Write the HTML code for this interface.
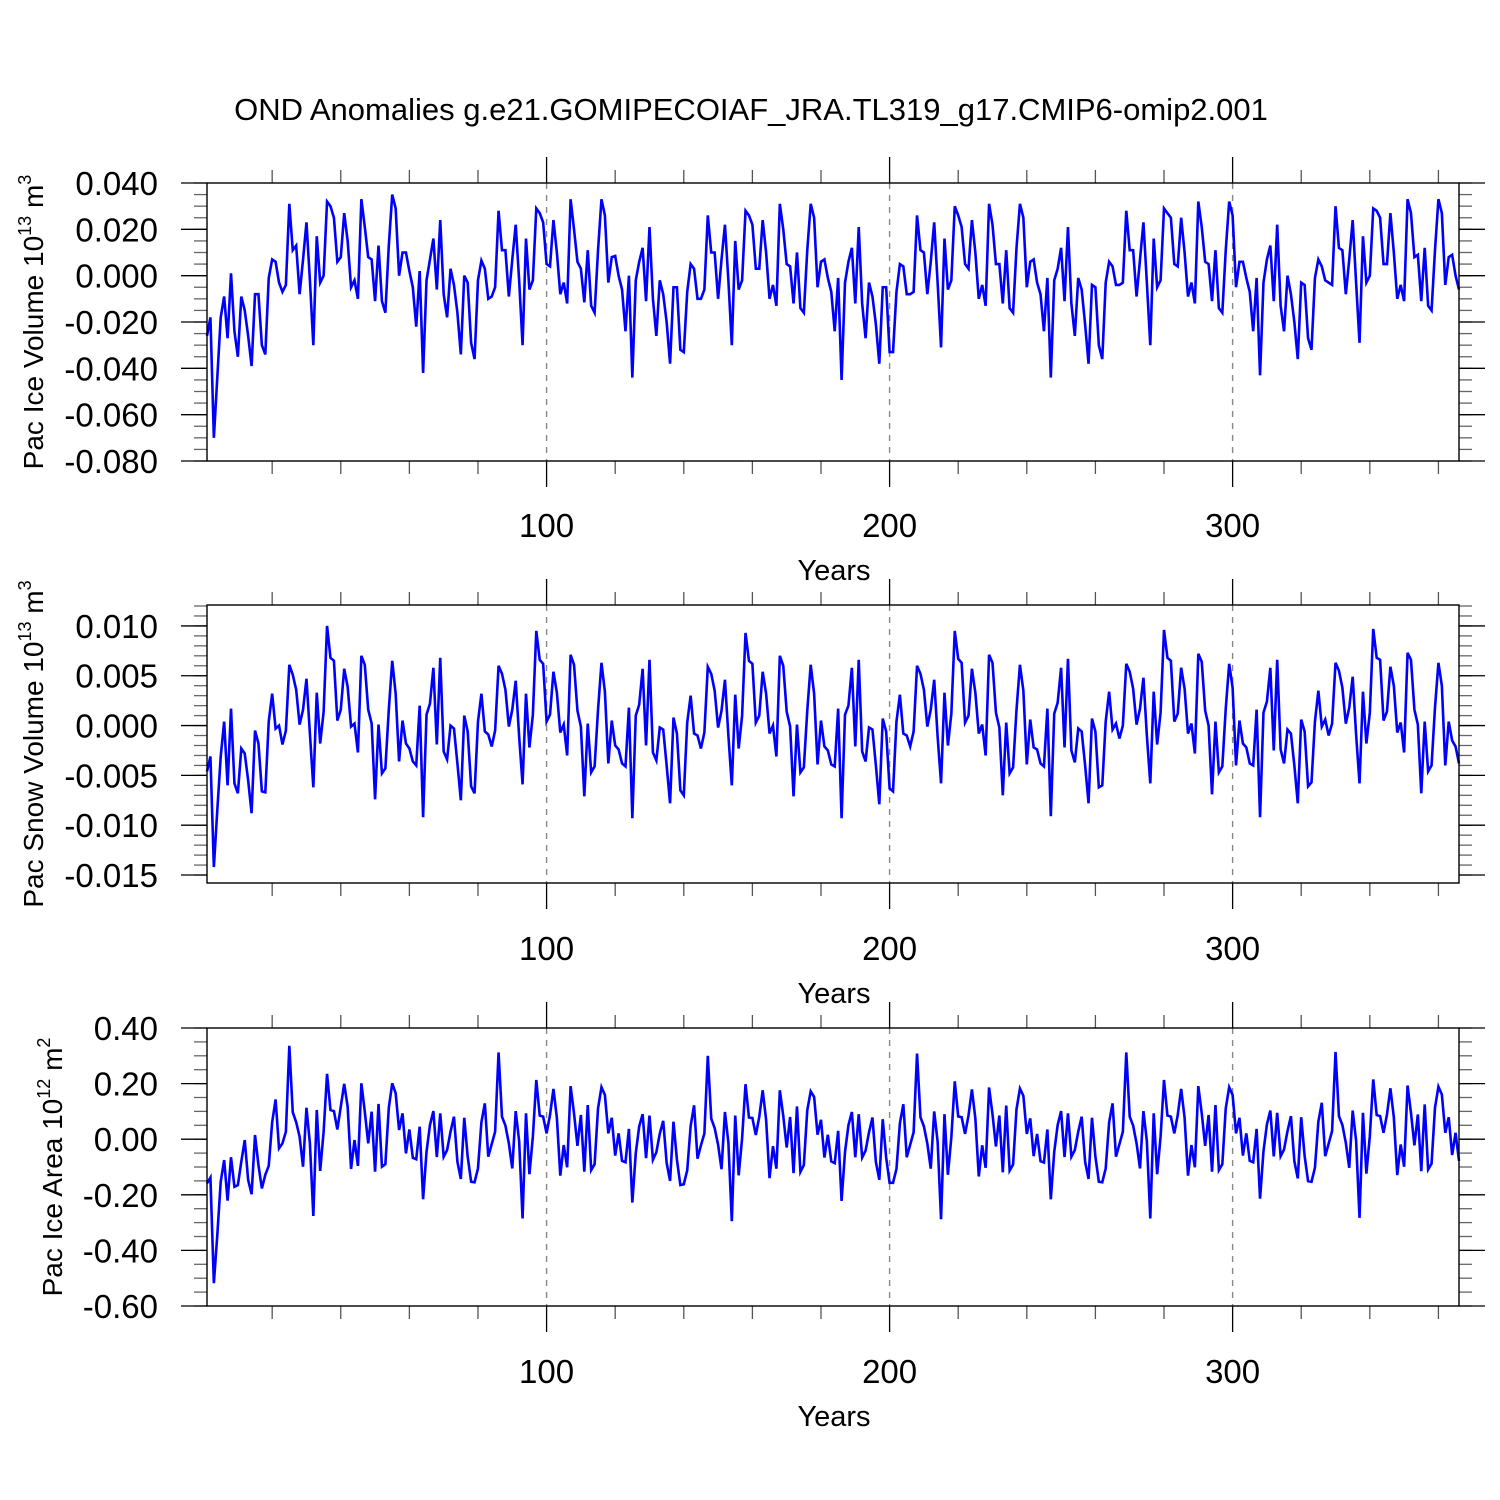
<!DOCTYPE html>
<html>
<head>
<meta charset="utf-8">
<style>
  html,body{margin:0;padding:0;background:#fff;}
  svg{display:block;font-family:"Liberation Sans",Arial,sans-serif;}
</style>
</head>
<body>
<svg id="chart" width="1500" height="1500" viewBox="0 0 1500 1500" xmlns="http://www.w3.org/2000/svg">
  <rect width="1500" height="1500" fill="#fff"/>
  <text x="751" y="120" font-size="31" text-anchor="middle" fill="#000">OND Anomalies g.e21.GOMIPECOIAF_JRA.TL319_g17.CMIP6-omip2.001</text>
</svg>
<script>
// ---------- data ----------
const xTickValues = [100, 200, 300];
const xTickLabels = ["100", "200", "300"];

const iceVolTicks = [0.040, 0.020, 0.000, -0.020, -0.040, -0.060, -0.080];
const iceVolTickLabels = ["0.040","0.020","0.000","-0.020","-0.040","-0.060","-0.080"];
const snowVolTicks = [0.010, 0.005, 0.000, -0.005, -0.010, -0.015];
const snowVolTickLabels = ["0.010","0.005","0.000","-0.005","-0.010","-0.015"];
const iceAreaTicks = [0.40, 0.20, 0.00, -0.20, -0.40, -0.60];
const iceAreaTickLabels = ["0.40","0.20","0.00","-0.20","-0.40","-0.60"];

const iceVolume = [
-0.026,-0.018,-0.070,-0.044,-0.018,-0.009,-0.027,0.001,-0.024,-0.035,-0.009,-0.015,-0.026,-0.039,-0.008,-0.008,-0.030,-0.034,-0.001,0.007,0.006,-0.003,-0.007,-0.004,0.031,0.011,0.013,-0.008,0.007,0.023,-0.002,-0.030,0.017,-0.003,0.000,0.032,0.030,0.025,0.006,0.008,0.027,0.015,-0.005,-0.002,-0.010,0.033,0.021,0.008,0.007,-0.011,0.013,-0.011,-0.016,0.013,0.035,0.029,0.000,0.010,0.010,0.002,-0.005,-0.022,0.002,
-0.042,-0.002,0.007,0.016,-0.006,0.024,-0.008,-0.018,0.003,-0.004,-0.016,-0.034,0.000,-0.003,-0.029,-0.036,-0.002,0.0065,0.003,-0.010,-0.009,-0.005,0.028,0.011,0.011,-0.009,0.007,0.022,-0.002,-0.030,0.016,-0.006,-0.002,0.029,0.027,0.023,0.005,0.004,0.024,0.010,-0.008,-0.003,-0.012,0.033,0.020,0.006,0.003,-0.0115,0.011,-0.013,-0.016,0.011,0.033,0.026,-0.003,0.008,0.0085,0.000,-0.006,-0.024,0.000,
-0.044,-0.002,0.006,0.012,-0.011,0.021,-0.010,-0.026,-0.002,-0.008,-0.020,-0.038,-0.005,-0.005,-0.032,-0.033,-0.007,0.005,0.003,-0.010,-0.010,-0.006,0.026,0.010,0.010,-0.010,0.007,0.022,-0.002,-0.030,0.015,-0.006,-0.002,0.028,0.026,0.022,0.003,0.003,0.024,0.010,-0.010,-0.004,-0.013,0.031,0.020,0.005,0.004,-0.012,0.010,-0.014,-0.016,0.011,0.031,0.025,-0.005,0.006,0.007,-0.001,-0.007,-0.024,-0.001,
-0.045,-0.003,0.006,0.012,-0.012,0.021,-0.012,-0.027,-0.003,-0.009,-0.021,-0.038,-0.005,-0.005,-0.033,-0.033,-0.007,0.005,0.004,-0.008,-0.008,-0.007,0.026,0.011,0.010,-0.008,0.006,0.023,-0.003,-0.031,0.016,-0.006,-0.002,0.030,0.026,0.021,0.005,0.003,0.024,0.010,-0.010,-0.004,-0.013,0.031,0.022,0.005,0.005,-0.012,0.011,-0.014,-0.016,0.012,0.031,0.025,-0.005,0.006,0.007,-0.003,-0.008,-0.024,-0.001,
-0.044,-0.002,0.003,0.012,-0.011,0.021,-0.012,-0.026,-0.001,-0.006,-0.021,-0.038,-0.004,-0.005,-0.030,-0.036,-0.003,0.006,0.004,-0.004,-0.004,-0.003,0.028,0.011,0.011,-0.009,0.007,0.023,-0.003,-0.030,0.016,-0.005,-0.002,0.029,0.027,0.025,0.005,0.004,0.025,0.010,-0.009,-0.003,-0.012,0.032,0.021,0.006,0.005,-0.011,0.011,-0.014,-0.016,0.011,0.032,0.026,-0.005,0.006,0.006,-0.001,-0.007,-0.024,-0.001,
-0.043,-0.003,0.007,0.013,-0.011,0.022,-0.013,-0.024,0.000,-0.008,-0.020,-0.036,-0.003,-0.004,-0.027,-0.032,-0.001,0.007,0.004,-0.002,-0.003,-0.004,0.030,0.012,0.011,-0.008,0.007,0.024,-0.003,-0.029,0.017,-0.003,0.000,0.029,0.028,0.025,0.005,0.005,0.027,0.010,-0.010,-0.004,-0.011,0.033,0.027,0.008,0.009,-0.011,0.012,-0.013,-0.015,0.011,0.033,0.027,-0.004,0.008,0.009,0.000,-0.006
];

const snowVolume = [
-0.0046,-0.0031,-0.0142,-0.0085,-0.0031,0.0004,-0.0060,0.0017,-0.0058,-0.0068,-0.0023,-0.0028,-0.0055,-0.0088,-0.0005,-0.0018,-0.0066,-0.0067,0.0004,0.0032,-0.0003,0.0000,-0.0019,-0.0005,0.0061,0.0051,0.0036,0.0001,0.0016,0.0047,-0.0008,-0.0062,0.0033,-0.0018,0.0014,0.0100,0.0068,0.0065,0.0005,0.0016,0.0057,0.0039,-0.0001,0.0002,-0.0027,0.0070,0.0061,0.0016,0.0002,-0.0074,0.0001,-0.0048,-0.0043,0.0016,0.0065,0.0032,-0.0036,0.0005,-0.0018,-0.0023,-0.0036,-0.0040,0.0020,
-0.0092,0.0011,0.0022,0.0058,-0.0019,0.0068,-0.0026,-0.0034,0.0000,-0.0003,-0.0038,-0.0075,0.0010,-0.0006,-0.0061,-0.0068,0.0004,0.0032,-0.0006,-0.0009,-0.0021,-0.0005,0.0060,0.0052,0.0036,-0.0001,0.0016,0.0045,-0.0011,-0.0059,0.0032,-0.0022,0.0011,0.0095,0.0066,0.0062,0.0004,0.0011,0.0054,0.0033,-0.0007,0.0001,-0.0030,0.0071,0.0061,0.0015,-0.0001,-0.0071,0.0002,-0.0047,-0.0041,0.0016,0.0063,0.0034,-0.0038,0.0005,-0.0020,-0.0024,-0.0038,-0.0041,0.0018,
-0.0093,0.0010,0.0021,0.0057,-0.0020,0.0066,-0.0027,-0.0035,-0.0002,-0.0004,-0.0040,-0.0078,0.0008,-0.0008,-0.0065,-0.0070,0.0003,0.0030,-0.0008,-0.0010,-0.0023,-0.0007,0.0059,0.0052,0.0035,-0.0002,0.0015,0.0046,-0.0010,-0.0060,0.0031,-0.0023,0.0010,0.0093,0.0065,0.0062,0.0003,0.0010,0.0054,0.0032,-0.0008,0.0000,-0.0031,0.0070,0.0060,0.0014,-0.0001,-0.0071,0.0001,-0.0047,-0.0042,0.0015,0.0061,0.0032,-0.0039,0.0005,-0.0021,-0.0025,-0.0039,-0.0041,0.0017,
-0.0093,0.0011,0.0020,0.0058,-0.0021,0.0066,-0.0026,-0.0036,-0.0002,-0.0004,-0.0040,-0.0079,0.0007,-0.0006,-0.0063,-0.0066,0.0004,0.0031,-0.0008,-0.0010,-0.0021,-0.0006,0.0060,0.0052,0.0036,-0.0001,0.0016,0.0046,-0.0011,-0.0058,0.0033,-0.0020,0.0012,0.0095,0.0067,0.0063,0.0003,0.0010,0.0057,0.0033,-0.0008,0.0001,-0.0030,0.0071,0.0063,0.0013,-0.0002,-0.0070,0.0003,-0.0048,-0.0042,0.0016,0.0061,0.0035,-0.0039,0.0006,-0.0022,-0.0024,-0.0038,-0.0041,0.0017,
-0.0091,0.0012,0.0023,0.0058,-0.0022,0.0067,-0.0025,-0.0037,-0.0003,-0.0006,-0.0040,-0.0078,0.0007,-0.0006,-0.0062,-0.0060,0.0004,0.0034,-0.0004,0.0002,-0.0013,0.0000,0.0062,0.0054,0.0037,0.0001,0.0017,0.0048,-0.0010,-0.0058,0.0034,-0.0019,0.0013,0.0096,0.0068,0.0065,0.0004,0.0012,0.0058,0.0037,-0.0008,0.0002,-0.0028,0.0072,0.0064,0.0015,0.0000,-0.0069,0.0004,-0.0047,-0.0041,0.0017,0.0062,0.0038,-0.0040,0.0005,-0.0018,-0.0022,-0.0038,-0.0040,0.0016,
-0.0092,0.0013,0.0024,0.0058,-0.0025,0.0066,-0.0024,-0.0038,-0.0004,-0.0008,-0.0040,-0.0078,0.0006,-0.0006,-0.0061,-0.0057,0.0004,0.0035,-0.0001,0.0006,-0.0010,0.0002,0.0063,0.0055,0.0038,0.0002,0.0018,0.0049,-0.0009,-0.0058,0.0034,-0.0018,0.0013,0.0097,0.0068,0.0066,0.0005,0.0014,0.0059,0.0040,-0.0007,0.0003,-0.0027,0.0073,0.0066,0.0016,0.0001,-0.0068,0.0004,-0.0046,-0.0040,0.0018,0.0063,0.0040,-0.0040,0.0004,-0.0015,-0.0021,-0.0038
];

const iceArea = [
-0.159,-0.138,-0.518,-0.345,-0.153,-0.075,-0.221,-0.065,-0.171,-0.165,-0.081,-0.003,-0.147,-0.198,0.015,-0.093,-0.177,-0.128,-0.096,0.061,0.143,-0.033,-0.015,0.027,0.336,0.097,0.061,0.009,-0.099,0.113,-0.015,-0.276,0.105,-0.114,0.027,0.235,0.105,0.101,0.035,0.117,0.199,0.117,-0.107,-0.003,-0.096,0.201,0.099,-0.015,0.099,-0.117,0.127,-0.099,-0.090,0.113,0.201,0.165,0.033,0.093,-0.051,0.035,-0.067,-0.072,0.045,
-0.216,-0.045,0.051,0.101,-0.064,0.093,-0.063,-0.039,0.027,0.081,-0.081,-0.143,0.077,-0.063,-0.153,-0.155,-0.105,0.061,0.129,-0.063,-0.018,0.027,0.312,0.081,0.049,-0.015,-0.105,0.101,-0.007,-0.285,0.093,-0.126,0.009,0.213,0.085,0.081,0.021,0.087,0.181,0.077,-0.131,-0.021,-0.101,0.191,0.093,-0.024,0.087,-0.117,0.123,-0.111,-0.090,0.111,0.187,0.159,0.021,0.077,-0.059,0.021,-0.078,-0.083,0.037,
-0.228,-0.050,0.046,0.090,-0.068,0.085,-0.074,-0.047,0.020,0.066,-0.085,-0.150,0.063,-0.074,-0.165,-0.162,-0.112,0.048,0.122,-0.070,-0.022,0.020,0.300,0.074,0.040,-0.020,-0.108,0.098,-0.012,-0.295,0.085,-0.130,0.003,0.198,0.078,0.076,0.015,0.080,0.176,0.070,-0.140,-0.025,-0.106,0.176,0.084,-0.030,0.080,-0.122,0.118,-0.118,-0.093,0.104,0.172,0.152,0.016,0.070,-0.066,0.016,-0.080,-0.086,0.030,
-0.222,-0.046,0.050,0.098,-0.065,0.090,-0.066,-0.041,0.025,0.078,-0.082,-0.146,0.072,-0.066,-0.157,-0.157,-0.107,0.057,0.126,-0.065,-0.020,0.025,0.308,0.079,0.046,-0.016,-0.106,0.100,-0.009,-0.288,0.090,-0.128,0.007,0.208,0.082,0.079,0.019,0.085,0.179,0.075,-0.134,-0.022,-0.103,0.186,0.090,-0.026,0.085,-0.119,0.121,-0.113,-0.091,0.108,0.182,0.156,0.019,0.075,-0.061,0.019,-0.079,-0.084,0.035,
-0.216,-0.045,0.051,0.101,-0.064,0.093,-0.063,-0.039,0.027,0.081,-0.081,-0.143,0.077,-0.063,-0.153,-0.155,-0.105,0.061,0.129,-0.063,-0.018,0.027,0.312,0.081,0.049,-0.015,-0.105,0.101,-0.007,-0.285,0.093,-0.126,0.009,0.213,0.085,0.081,0.021,0.087,0.181,0.077,-0.131,-0.021,-0.101,0.191,0.093,-0.024,0.087,-0.117,0.123,-0.111,-0.090,0.111,0.187,0.159,0.021,0.077,-0.059,0.021,-0.078,-0.083,0.037,
-0.214,-0.043,0.053,0.103,-0.062,0.095,-0.061,-0.037,0.029,0.083,-0.079,-0.141,0.079,-0.061,-0.151,-0.153,-0.103,0.063,0.131,-0.061,-0.016,0.029,0.314,0.083,0.051,-0.013,-0.103,0.103,-0.005,-0.283,0.095,-0.124,0.011,0.215,0.087,0.083,0.023,0.089,0.183,0.079,-0.129,-0.019,-0.099,0.193,0.095,-0.022,0.089,-0.115,0.125,-0.109,-0.088,0.113,0.189,0.161,0.023,0.079,-0.057,0.023,-0.078
];

// ---------- layout ----------
const svg = document.getElementById('chart');
const NS = 'http://www.w3.org/2000/svg';
const X0 = 207, X1 = 1459;
const XMIN = 1, XMAX = 366;
function xScale(v){ return X0 + (v - XMIN) / (XMAX - XMIN) * (X1 - X0); }

function mk(tag, attrs, parent){
  const e = document.createElementNS(NS, tag);
  for (const k in attrs) e.setAttribute(k, attrs[k]);
  (parent || svg).appendChild(e);
  return e;
}

const panels = [
  {key:'ice-volume', top:183, bottom:461, vmax:0.040, vmin:-0.080,
   ticks:iceVolTicks, labels:iceVolTickLabels, minorStep:0.005, values:iceVolume,
   title:['Pac Ice Volume 10','13',' m','3'], titleX:43, titleY:322, xLabY:537, yearsY:580},
  {key:'snow-volume', top:605, bottom:883, vmax:0.0121, vmin:-0.0158,
   ticks:snowVolTicks, labels:snowVolTickLabels, minorStep:0.001, values:snowVolume,
   title:['Pac Snow Volume 10','13',' m','3'], titleX:43, titleY:744, xLabY:960, yearsY:1003},
  {key:'ice-area', top:1028, bottom:1306, vmax:0.40, vmin:-0.60,
   ticks:iceAreaTicks, labels:iceAreaTickLabels, minorStep:0.05, values:iceArea,
   title:['Pac Ice Area 10','12',' m','2'], titleX:62, titleY:1167, xLabY:1383, yearsY:1426}
];

panels.forEach(p => {
  const g = mk('g', {});
  
  
  const yS = v => p.top + (p.vmax - v) / (p.vmax - p.vmin) * (p.bottom - p.top);

  xTickValues.forEach(t => {
    const l = mk('line', {x1:xScale(t), x2:xScale(t), y1:p.top, y2:p.bottom, stroke:'#888', 'stroke-width':1.4, 'stroke-dasharray':'6 6'}, g);
    
    
  });

  for (let t = 20; t <= XMAX; t += 20) {
    const x = xScale(t);
    const major = (t % 100 === 0);
    const len = major ? 26 : 13;
    const c = major ? '#000' : '#555';
    mk('line', {x1:x, x2:x, y1:p.bottom, y2:p.bottom + len, stroke:c, 'stroke-width':1.3}, g);
    mk('line', {x1:x, x2:x, y1:p.top, y2:p.top - len, stroke:c, 'stroke-width':1.3}, g);
  }

  const start = Math.ceil(p.vmin / p.minorStep - 1e-6);
  for (let i = start; i * p.minorStep <= p.vmax + 1e-9; i++) {
    const y = yS(i * p.minorStep);
    mk('line', {x1:X0, x2:X0 - 13, y1:y, y2:y, stroke:'#666', 'stroke-width':1.3}, g);
    mk('line', {x1:X1, x2:X1 + 13, y1:y, y2:y, stroke:'#666', 'stroke-width':1.3}, g);
  }
  p.ticks.forEach((v, i) => {
    const y = yS(v);
    mk('line', {x1:X0, x2:X0 - 26, y1:y, y2:y, stroke:'#000', 'stroke-width':1.3}, g);
    mk('line', {x1:X1, x2:X1 + 26, y1:y, y2:y, stroke:'#000', 'stroke-width':1.3}, g);
    const t = mk('text', {x:158, y:y + 12, 'font-size':33, 'text-anchor':'end', fill:'#000'}, g);
    
    
    t.textContent = p.labels[i];
  });

  xTickValues.forEach((v, i) => {
    const t = mk('text', {x:xScale(v), y:p.xLabY, 'font-size':33, 'text-anchor':'middle', fill:'#000'}, g);
    
    
    t.textContent = xTickLabels[i];
  });
  const yt = mk('text', {x:834, y:p.yearsY, 'font-size':29, 'text-anchor':'middle', fill:'#000'}, g);
  
  
  yt.textContent = 'Years';

  const tt = mk('text', {x:0, y:0, 'font-size':28, 'text-anchor':'middle', fill:'#000',
    transform:'translate(' + p.titleX + ',' + p.titleY + ') rotate(-90)'}, g);
  
  
  const s1 = mk('tspan', {}, tt); s1.textContent = p.title[0];
  const s2 = mk('tspan', {dy:-12, 'font-size':18}, tt); s2.textContent = p.title[1];
  const s3 = mk('tspan', {dy:12}, tt); s3.textContent = p.title[2];
  const s4 = mk('tspan', {dy:-12, 'font-size':18}, tt); s4.textContent = p.title[3];

  const pts = p.values.map((v, i) => xScale(XMIN + i).toFixed(2) + ',' + yS(v).toFixed(2)).join(' ');
  const pl = mk('polyline', {points:pts, fill:'none', stroke:'#0000ff', 'stroke-width':2.6, 'stroke-linejoin':'miter', 'stroke-miterlimit':4}, g);
  
  

  const fr = mk('rect', {x:X0, y:p.top, width:X1 - X0, height:p.bottom - p.top, fill:'none', stroke:'#000', 'stroke-width':1.4}, g);
  
  
});
</script>
</body>
</html>
